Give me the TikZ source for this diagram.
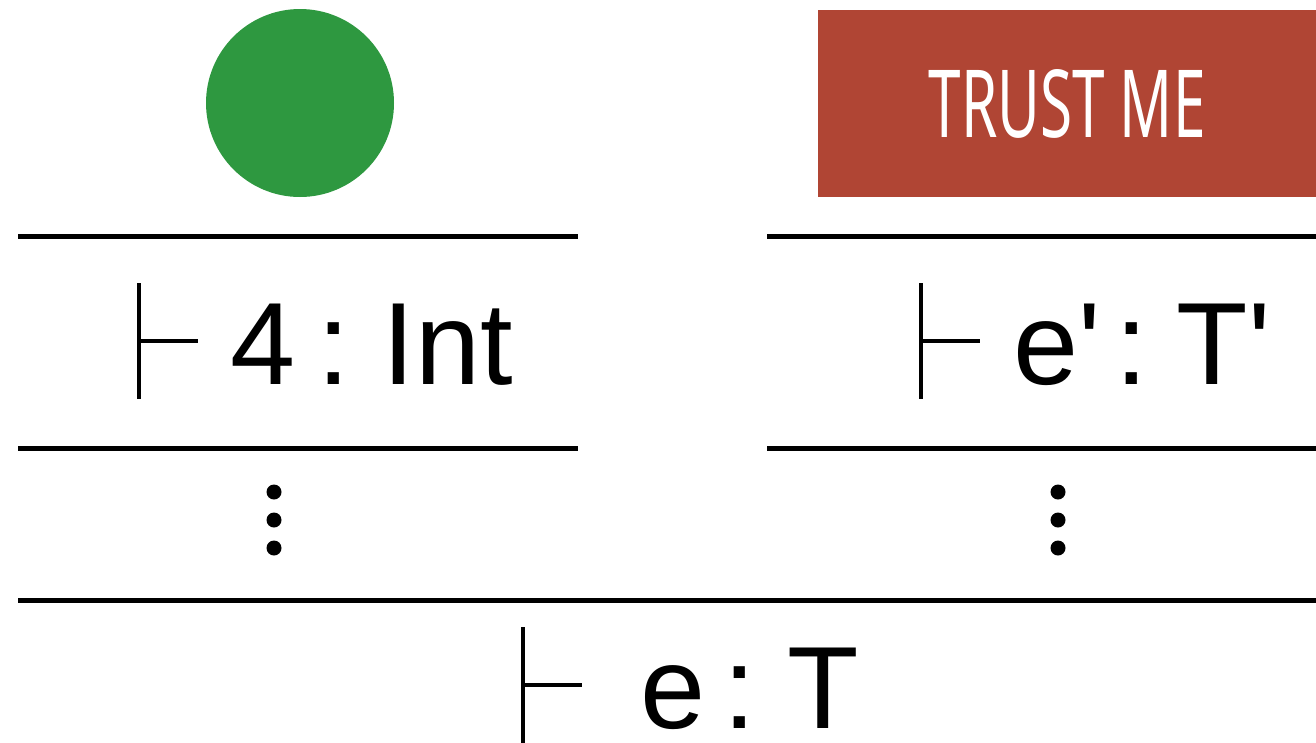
\documentclass[tikz,border=0pt]{standalone}
\usepackage{graphicx}
\usepackage{fontspec}
\setmainfont{Liberation Sans}[Ligatures=TeXOff]
\newfontfamily\trustfont{Noto Sans}
\definecolor{okgreen}{RGB}{46,152,64}
\definecolor{trustred}{RGB}{176,69,52}
\tikzset{
  rule/.style={line width=5pt},
  tstile/.style={line width=4pt},
  judg/.style={anchor=base west, inner sep=0pt, text depth=0pt, font=\fontsize{117}{120}\selectfont},
  vdot/.style={circle, fill=black, inner sep=0pt, minimum size=15pt},
}
\begin{document}
\begin{tikzpicture}[x=1pt,y=-1pt]
\useasboundingbox (0,0) rectangle (1316,742);
% premises
\node[circle, fill=okgreen, minimum size=188pt, inner sep=0pt] (ok) at (300,103) {};
\node[fill=trustred, minimum width=498pt, minimum height=187pt, inner sep=0pt, anchor=north west] (trust) at (818,10) {};
\node[text=white, inner sep=0pt] (trusttxt) at (1067,104) {\resizebox{277pt}{68pt}{\trustfont\fontsize{95}{95}\selectfont\bfseries TRUST ME}};
% rules
\coordinate (r1a) at (18,236); \coordinate (r1b) at (578,236);
\coordinate (r2a) at (767,236); \coordinate (r2b) at (1316,236);
\coordinate (r3a) at (18,448); \coordinate (r3b) at (578,448);
\coordinate (r4a) at (767,448); \coordinate (r4b) at (1316,448);
\coordinate (r5a) at (18,600); \coordinate (r5b) at (1316,600);
\draw[rule] (r1a) -- (r1b);
\draw[rule] (r2a) -- (r2b);
\draw[rule] (r3a) -- (r3b);
\draw[rule] (r4a) -- (r4b);
\draw[rule] (r5a) -- (r5b);
% turnstiles
\coordinate (t1top) at (139,283); \coordinate (t1bot) at (139,399);
\coordinate (t1mid) at (139,341); \coordinate (t1end) at (198,341);
\draw[tstile] (t1top) -- (t1bot) (t1mid) -- (t1end);
\coordinate (t2top) at (921,283); \coordinate (t2bot) at (921,399);
\coordinate (t2mid) at (921,341); \coordinate (t2end) at (980,341);
\draw[tstile] (t2top) -- (t2bot) (t2mid) -- (t2end);
\coordinate (t3top) at (523,627); \coordinate (t3bot) at (523,745);
\coordinate (t3mid) at (523,685); \coordinate (t3end) at (582,685);
\draw[tstile] (t3top) -- (t3bot) (t3mid) -- (t3end);
% judgements
\node[judg] (j1) at (230,384) {4 \kern-10pt: \kern-11pt Int};
\node[judg] (j2) at (1013,384) {e' \kern-18pt: \kern-14pt T'};
\node[judg] (j3) at (640,728) {e \kern-14pt: \kern-12pt T};
% vertical dots
\node[vdot] (d1) at (274,492) {};
\node[vdot] (d2) at (274,520) {};
\node[vdot] (d3) at (274,548) {};
\node[vdot] (d4) at (1058,492) {};
\node[vdot] (d5) at (1058,520) {};
\node[vdot] (d6) at (1058,548) {};
\end{tikzpicture}
\end{document}
